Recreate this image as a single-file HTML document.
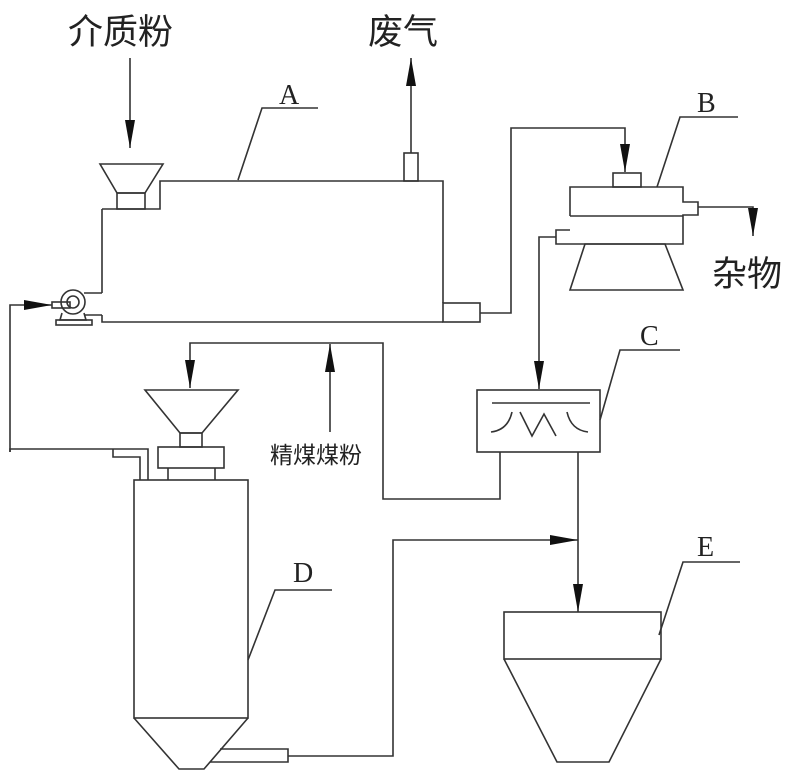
<!DOCTYPE html>
<html><head><meta charset="utf-8"><style>
html,body{margin:0;padding:0;background:#fff;}
svg{display:block}
text{font-family:"Liberation Serif","Noto Sans CJK SC",serif;fill:#222}
.cn{font-family:"Liberation Sans","Noto Sans CJK SC",sans-serif}
</style></head><body>
<svg width="800" height="778" viewBox="0 0 800 778" xmlns="http://www.w3.org/2000/svg">
<defs>
<marker id="ah" viewBox="0 0 28 10" refX="28" refY="5" markerWidth="28" markerHeight="10" markerUnits="userSpaceOnUse" orient="auto"><path d="M0,0 L28,5 L0,10 z" fill="#111"/></marker>
<marker id="al" viewBox="0 0 28 10" refX="28" refY="5" markerWidth="28" markerHeight="10" markerUnits="userSpaceOnUse" orient="auto"><path d="M0,0 L28,5 L0,10 z" fill="#111"/></marker>
</defs>
<g fill="none" stroke="#333" stroke-width="1.6">
<!-- Tank A -->
<path d="M102,209 L160,209 L160,181 L443,181 L443,303 M102,209 L102,293 M102,315 L102,322 L443,322"/>
<rect x="443" y="303" width="37" height="19"/>
<path d="M100,164 L163,164 L145,193 L117,193 Z"/>
<rect x="117" y="193" width="28" height="16"/>
<rect x="404" y="153" width="14" height="28"/>
<line x1="130" y1="58" x2="130" y2="148" marker-end="url(#ah)"/>
<line x1="411" y1="153" x2="411" y2="58" marker-end="url(#ah)"/>
<path d="M238,180 L262,108 L318,108"/>
<!-- pump -->
<circle cx="73" cy="302" r="12"/>
<circle cx="73" cy="302" r="6"/>
<path d="M84,293 L102,293 M84,315 L102,315"/>
<path d="M62,313 L60,320 L86,320 L84,313"/>
<rect x="56" y="320" width="36" height="5"/>
<path d="M10,452 L10,305 L52,305" marker-end="url(#al)"/>
<rect x="52" y="302" width="18" height="6"/>
<!-- B -->
<path d="M480,313 L511,313 L511,128 L625,128 L625,172" marker-end="url(#ah)"/>
<rect x="613" y="173" width="28" height="14"/>
<path d="M570,216 L570,187 L683,187 L683,202 L698,202 L698,215 L683,215 L683,244 L570,244 L570,244 M570,216 L683,216"/>
<path d="M570,230 L556,230 L556,244 L570,244"/>
<path d="M585,244 L665,244 L683,290 L570,290 Z"/>
<path d="M698,207 L753,207 L753,236" marker-end="url(#ah)"/>
<path d="M657,187 L680,117 L738,117"/>
<path d="M556,237 L539,237 L539,389" marker-end="url(#ah)"/>
<!-- C -->
<rect x="477" y="390" width="123" height="62"/>
<line x1="492" y1="403" x2="590" y2="403"/>
<path d="M491,432 Q508,430 512,412 M588,432 Q571,430 567,412 M520,412 L532,436 L544,414 L556,436"/>
<path d="M600,420 L620,350 L680,350"/>
<path d="M500,452 L500,499 L383,499 L383,343 L190,343 L190,388" marker-end="url(#ah)"/>
<line x1="330" y1="432" x2="330" y2="344" marker-end="url(#ah)"/>
<!-- D -->
<path d="M145,390 L238,390 L202,433 L180,433 Z"/>
<rect x="180" y="433" width="22" height="14"/>
<rect x="158" y="447" width="66" height="21"/>
<path d="M168,468 L168,480 M215,468 L215,480"/>
<rect x="134" y="480" width="114" height="238"/>
<path d="M134,718 L179,769 L204,769 L248,718"/>
<path d="M10,452 L10,449 L148,449 L148,480 M10,449 L10,452 M113,449 L113,457 L140,457 L140,480"/>
<path d="M220,749 L288,749 L288,762 L210,762"/>
<path d="M288,756 L393,756 L393,540 L578,540" marker-end="url(#al)"/>
<path d="M248,660 L275,590 L332,590"/>
<!-- E -->
<line x1="578" y1="452" x2="578" y2="612" marker-end="url(#ah)"/>
<rect x="504" y="612" width="157" height="47"/>
<path d="M504,659 L557,762 L609,762 L661,659"/>
<path d="M659,635 L683,562 L740,562"/>
</g>
<text class="cn" x="68" y="44" font-size="35">介质粉</text>
<text class="cn" x="368" y="44" font-size="35">废气</text>
<text class="cn" x="712" y="286" font-size="35">杂物</text>
<text class="cn" x="270" y="463" font-size="23">精煤煤粉</text>
<text x="279" y="104" font-size="28">A</text>
<text x="697" y="112" font-size="28">B</text>
<text x="640" y="345" font-size="28">C</text>
<text x="293" y="582" font-size="28">D</text>
<text x="697" y="556" font-size="28">E</text>
</svg>
</body></html>
